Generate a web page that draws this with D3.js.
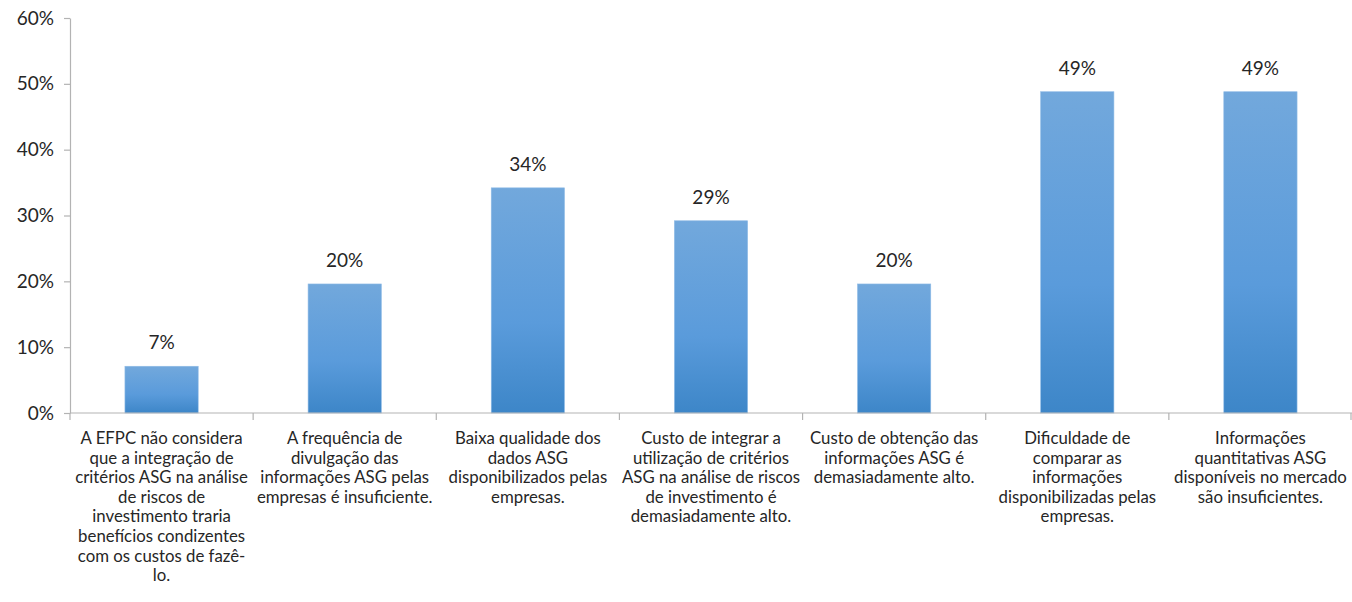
<!DOCTYPE html>
<html>
<head>
<meta charset="utf-8">
<script src="https://cdn.jsdelivr.net/npm/d3@7"></script>
<style>
  body { margin: 0; background: #fff; }
  text { font-family: Lato, "Open Sans", sans-serif; fill: #262626; }
</style>
</head>
<body>
<div id="chart"></div>
<script>
// data
const categories = [
  "A EFPC não considera que a integração de critérios ASG na análise de riscos de investimento traria benefícios condizentes com os custos de fazê-lo.",
  "A frequência de divulgação das informações ASG pelas empresas é insuficiente.",
  "Baixa qualidade dos dados ASG disponibilizados pelas empresas.",
  "Custo de integrar a utilização de critérios ASG na análise de riscos de investimento é demasiadamente alto.",
  "Custo de obtenção das informações ASG é demasiadamente alto.",
  "Dificuldade de comparar as informações disponibilizadas pelas empresas.",
  "Informações quantitativas ASG disponíveis no mercado são insuficientes."
];
const values = [0.071, 0.196, 0.342, 0.292, 0.196, 0.488, 0.488];
const labelLines = [
  ["A EFPC não considera", "que a integração de", "critérios ASG na análise", "de riscos de", "investimento traria", "benefícios condizentes", "com os custos de fazê-", "lo."],
  ["A frequência de", "divulgação das", "informações ASG pelas", "empresas é insuficiente."],
  ["Baixa qualidade dos", "dados ASG", "disponibilizados pelas", "empresas."],
  ["Custo de integrar a", "utilização de critérios", "ASG na análise de riscos", "de investimento é", "demasiadamente alto."],
  ["Custo de obtenção das", "informações ASG é", "demasiadamente alto."],
  ["Dificuldade de", "comparar as", "informações", "disponibilizadas pelas", "empresas."],
  ["Informações", "quantitativas ASG", "disponíveis no mercado", "são insuficientes."]
];
const yTicks = [0, 0.1, 0.2, 0.3, 0.4, 0.5, 0.6];

////////////////////////////  Init  ///////////////////////////////
const width = 1352, height = 602;
const margin = { top: 18, right: 0, bottom: 189, left: 70 };

const svg = d3.select("#chart").append("svg")
  .attr("width", width)
  .attr("height", height);

// gradient
const grad = svg.append("defs").append("linearGradient")
  .attr("id", "barGrad")
  .attr("x1", 0).attr("y1", 0).attr("x2", 0).attr("y2", 1);
grad.append("stop").attr("offset", "0%").attr("stop-color", "#72a8dc");
grad.append("stop").attr("offset", "60%").attr("stop-color", "#5a9bdb");
grad.append("stop").attr("offset", "100%").attr("stop-color", "#3d86c8");

// scale
const x = d3.scaleBand()
  .domain(categories)
  .range([margin.left, width - margin.right])
  .padding(0);

const y = d3.scaleLinear()
  .domain([0, 0.6])
  .range([height - margin.bottom, margin.top]);

const barW = x.bandwidth() * 0.4;
const axisColor = "#b3b3b3";

// y axis
const yAxis = svg.append("g")
  .attr("transform", `translate(${margin.left},0)`)
  .call(d3.axisLeft(y).tickValues(yTicks).tickFormat(d3.format(".0%")).tickSizeInner(6).tickSizeOuter(0).tickPadding(10));
yAxis.select(".domain").attr("stroke", axisColor).attr("stroke-width", 1.2);
yAxis.selectAll(".tick line").attr("stroke", axisColor).attr("stroke-width", 1.2);
yAxis.selectAll(".tick text").style("font-size", "19px").attr("fill", "#262626");

// bars
svg.selectAll(".bar")
  .data(values)
  .enter()
  .append("rect")
  .attr("class", "bar")
  .attr("x", (d, i) => x(categories[i]) + (x.bandwidth() - barW) / 2)
  .attr("y", (d) => y(d))
  .attr("width", barW)
  .attr("height", (d) => y(0) - y(d))
  .attr("fill", "url(#barGrad)")
  .attr("stroke", "#8fbbe6")
  .attr("stroke-width", 0.6);

// value labels
svg.selectAll(".val")
  .data(values)
  .enter()
  .append("text")
  .attr("class", "val")
  .attr("x", (d, i) => x(categories[i]) + x.bandwidth() / 2)
  .attr("y", (d) => y(d) - 17)
  .attr("text-anchor", "middle")
  .style("font-size", "19px")
  .text((d) => d3.format(".0%")(d));

// x axis
const xAxis = svg.append("g")
  .attr("transform", `translate(0,${y(0)})`);
xAxis.append("line")
  .attr("x1", margin.left).attr("x2", width - margin.right)
  .attr("stroke", axisColor).attr("stroke-width", 1.2);
const seps = d3.range(categories.length + 1).map((i) => margin.left + i * x.step());
xAxis.selectAll(".sep")
  .data(seps)
  .enter()
  .append("line")
  .attr("x1", (d) => Math.min(d, width - 1)).attr("x2", (d) => Math.min(d, width - 1))
  .attr("y1", 0).attr("y2", 7)
  .attr("stroke", axisColor).attr("stroke-width", 1.2);

// category labels
const catG = svg.selectAll(".cat")
  .data(categories)
  .enter()
  .append("text")
  .attr("class", "cat")
  .attr("text-anchor", "middle")
  .style("font-size", "16.8px")
  .attr("transform", (d) => `translate(${x(d) + x.bandwidth() / 2},${y(0) + 31})`);

catG.selectAll("tspan")
  .data((d, i) => labelLines[i])
  .enter()
  .append("tspan")
  .attr("x", 0)
  .attr("y", (d, i) => i * 19.6)
  .text((d) => d);
</script>
</body>
</html>
